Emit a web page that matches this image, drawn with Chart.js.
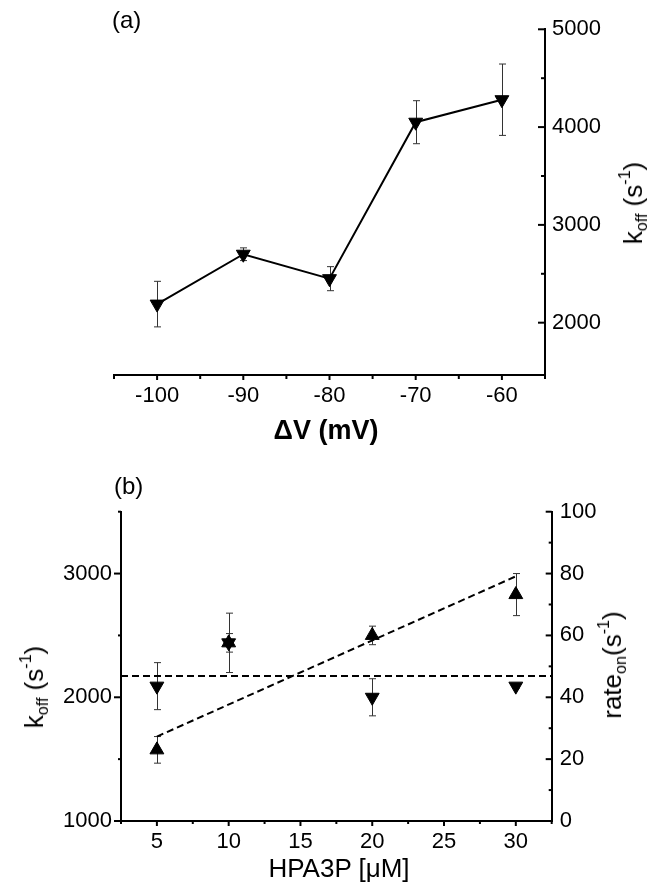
<!DOCTYPE html>
<html>
<head>
<meta charset="utf-8">
<script src="https://cdn.jsdelivr.net/npm/chart.js@4.4.1/dist/chart.umd.min.js"></script>
<style>
  body { margin: 0; background: #fff; }
  #wrap { position: relative; width: 660px; height: 883px; background: #fff; overflow: hidden;
          font-family: 'Liberation Sans', Arial, Helvetica, sans-serif; color: #000; }
  canvas { position: absolute; left: 0; }
  .lbl { position: absolute; white-space: nowrap; line-height: 1; }
  .rot { transform: translate(-50%, -50%) rotate(-90deg); }
  .ctr { transform: translateX(-50%); }
  sub, sup { font-size: 0.62em; line-height: 0; position: relative; vertical-align: baseline; }
  sub { top: 0.3em; }
  sup { top: -0.75em; }
</style>
</head>
<body>
<div id="wrap">
  <canvas id="chartA" width="660" height="450" style="top:0"></canvas>
  <canvas id="chartB" width="660" height="433" style="top:450px"></canvas>

  <div class="lbl" style="left:112px;top:8px;font-size:24px">(a)</div>
  <div class="lbl ctr" style="left:326px;top:417px;font-size:27px;font-weight:bold">ΔV (mV)</div>
  <div class="lbl rot" style="left:633px;top:203px;font-size:26px">k<sub>off</sub> (s<sup>-1</sup>)</div>

  <div class="lbl" style="left:114px;top:474px;font-size:24px">(b)</div>
  <div class="lbl rot" style="left:34px;top:687px;font-size:26px">k<sub>off</sub> (s<sup>-1</sup>)</div>
  <div class="lbl rot" style="left:612px;top:665px;font-size:26px">rate<sub>on</sub>(s<sup>-1</sup>)</div>
  <div class="lbl ctr" style="left:339px;top:855px;font-size:26px">HPA3P [μM]</div>
</div>

<script>
// ---- panel (a): k_off vs membrane potential ----
const voltages = [-100, -90, -80, -70, -60];
const koffA = [2190, 2700, 2450, 4050, 4280];
const koffAErr = [233, 65, 123, 220, 365];

const xTicksA = [-100, -90, -80, -70, -60];
const xMinorA = [-105, -95, -85, -75, -65, -55];
const yTicksA = [2000, 3000, 4000, 5000];
const yMinorA = [2500, 3500, 4500];

// ---- panel (b): k_off and rate_on vs HPA3P concentration ----
const conc = [5, 10, 20, 30];
const koffB = [2090, 2440, 2000, 2090];
const koffBErr = [190, 240, 150, 15];
const rateOn = [23, 57.6, 60, 73.2];
const rateOnErr = [4.3, 3, 3, 6.8];

const meanX = [2.5, 32.5];
const meanKoff = [2172, 2172];
const fitX = [5, 30];
const fitRate = [27.3, 79.1];

const xTicksB = [5, 10, 15, 20, 25, 30];
const xMinorB = [2.5, 7.5, 12.5, 17.5, 22.5, 27.5, 32.5];
const yTicksB = [1000, 2000, 3000];
const yMinorB = [1500, 2500, 3500];
const y2TicksB = [0, 20, 40, 60, 80, 100];
const y2MinorB = [10, 30, 50, 70, 90];

const tickFont = { family: "'Liberation Sans', Arial, sans-serif", size: 22, lineHeight: 1 };

function pts(xs, ys) {
  return xs.map((x, i) => ({ x: x, y: ys[i] }));
}

// error bars drawn under the markers
const errorBars = {
  id: 'errorBars',
  beforeDatasetsDraw(chart) {
    const ctx = chart.ctx;
    ctx.save();
    ctx.strokeStyle = '#333';
    ctx.lineWidth = 1;
    chart.data.datasets.forEach((ds, i) => {
      if (!ds.errors) return;
      const meta = chart.getDatasetMeta(i);
      const xs = chart.scales[meta.xAxisID];
      const ys = chart.scales[meta.yAxisID];
      ds.data.forEach((p, j) => {
        const e = ds.errors[j];
        if (!e) return;
        const x = Math.round(xs.getPixelForValue(p.x)) + 0.5;
        const top = ys.getPixelForValue(p.y + e);
        const bot = ys.getPixelForValue(p.y - e);
        ctx.beginPath();
        ctx.moveTo(x, top); ctx.lineTo(x, bot);
        ctx.moveTo(x - 3.5, top); ctx.lineTo(x + 3.5, top);
        ctx.moveTo(x - 3.5, bot); ctx.lineTo(x + 3.5, bot);
        ctx.stroke();
      });
    });
    ctx.restore();
  }
};

// tick marks with major / minor lengths, in or out
function tickMarks(specs) {
  return {
    id: 'tickMarks',
    afterDraw(chart) {
      const ctx = chart.ctx;
      ctx.save();
      ctx.strokeStyle = '#000';
      ctx.lineWidth = 2;
      specs.forEach(sp => {
        const s = chart.scales[sp.id];
        const mark = (v, len) => {
          const p = s.getPixelForValue(v);
          ctx.beginPath();
          if (s.isHorizontal()) {
            const y0 = s.top;
            ctx.moveTo(p, y0);
            ctx.lineTo(p, y0 + (sp.dir === 'out' ? len : -len));
          } else {
            const x0 = s.position === 'left' ? s.right : s.left;
            const outSign = s.position === 'left' ? -1 : 1;
            const sign = sp.dir === 'out' ? outSign : -outSign;
            ctx.moveTo(x0, p);
            ctx.lineTo(x0 + sign * len, p);
          }
          ctx.stroke();
        };
        sp.major.forEach(v => mark(v, sp.majorLen));
        sp.minor.forEach(v => mark(v, sp.minorLen));
      });
      ctx.restore();
    }
  };
}

function axis(opts) {
  return Object.assign({
    type: 'linear',
    grid: { display: false, drawTicks: false },
    border: { display: true, width: 2, color: '#000' },
  }, opts);
}

function tickOpts(padding) {
  return { font: tickFont, color: '#000', padding: padding, autoSkip: false, maxRotation: 0,
           callback: v => String(v) };
}

const baseOpts = {
  responsive: false,
  animation: false,
  devicePixelRatio: 1,
  plugins: { legend: { display: false }, tooltip: { enabled: false } }
};

new Chart(document.getElementById('chartA'), {
  type: 'scatter',
  data: {
    datasets: [{
      data: pts(voltages, koffA),
      errors: koffAErr,
      showLine: true,
      borderColor: '#000',
      borderWidth: 2,
      pointStyle: 'triangle',
      pointRotation: 180,
      pointRadius: 8,
      pointBackgroundColor: '#000',
      pointBorderColor: '#000',
      pointBorderWidth: 1
    }]
  },
  options: Object.assign({}, baseOpts, {
    layout: { padding: { left: 114, top: 29.3, right: 0, bottom: 0 } },
    scales: {
      x: axis({
        position: 'bottom', min: -105, max: -55,
        ticks: tickOpts(10),
        afterBuildTicks: s => { s.ticks = xTicksA.map(v => ({ value: v })); },
        afterFit: s => { s.height = 75; }
      }),
      y: axis({
        position: 'right', min: 1465, max: 5000,
        ticks: tickOpts(7),
        afterBuildTicks: s => { s.ticks = yTicksA.map(v => ({ value: v })); },
        afterFit: s => { s.width = 115; }
      })
    }
  }),
  plugins: [errorBars, tickMarks([
    { id: 'x', dir: 'out', major: xTicksA, minor: xMinorA, majorLen: 5, minorLen: 4 },
    { id: 'y', dir: 'in', major: yTicksA, minor: yMinorA, majorLen: 7, minorLen: 4 }
  ])]
});

new Chart(document.getElementById('chartB'), {
  type: 'scatter',
  data: {
    datasets: [{
      data: pts(conc, koffB),
      errors: koffBErr,
      yAxisID: 'y',
      order: 0,
      pointStyle: 'triangle',
      pointRotation: 180,
      pointRadius: 8,
      pointBackgroundColor: '#000',
      pointBorderColor: '#000',
      pointBorderWidth: 1
    }, {
      data: pts(conc, rateOn),
      errors: rateOnErr,
      yAxisID: 'y2',
      order: 0,
      pointStyle: 'triangle',
      pointRadius: 8,
      pointBackgroundColor: '#000',
      pointBorderColor: '#000',
      pointBorderWidth: 1
    }, {
      data: pts(meanX, meanKoff),
      yAxisID: 'y',
      order: 1,
      showLine: true,
      borderColor: '#000',
      borderWidth: 2,
      borderDash: [7, 4],
      pointRadius: 0
    }, {
      data: pts(fitX, fitRate),
      yAxisID: 'y2',
      order: 1,
      showLine: true,
      borderColor: '#000',
      borderWidth: 2,
      borderDash: [7, 4],
      pointRadius: 0
    }]
  },
  options: Object.assign({}, baseOpts, {
    layout: { padding: { left: 0, top: 61.7, right: 0, bottom: 0 } },
    scales: {
      x: axis({
        position: 'bottom', min: 2.5, max: 32.5,
        ticks: tickOpts(10),
        afterBuildTicks: s => { s.ticks = xTicksB.map(v => ({ value: v })); },
        afterFit: s => { s.height = 62; }
      }),
      y: axis({
        position: 'left', min: 1000, max: 3500,
        ticks: tickOpts(9),
        afterBuildTicks: s => { s.ticks = yTicksB.map(v => ({ value: v })); },
        afterFit: s => { s.width = 121; }
      }),
      y2: axis({
        position: 'right', min: 0, max: 100,
        ticks: tickOpts(8),
        afterBuildTicks: s => { s.ticks = y2TicksB.map(v => ({ value: v })); },
        afterFit: s => { s.width = 108.3; }
      })
    }
  }),
  plugins: [errorBars, tickMarks([
    { id: 'x', dir: 'out', major: xTicksB, minor: xMinorB, majorLen: 5, minorLen: 3 },
    { id: 'y', dir: 'out', major: yTicksB, minor: yMinorB, majorLen: 7, minorLen: 3 },
    { id: 'y2', dir: 'in', major: y2TicksB, minor: y2MinorB, majorLen: 6, minorLen: 3 }
  ])]
});
</script>
</body>
</html>
